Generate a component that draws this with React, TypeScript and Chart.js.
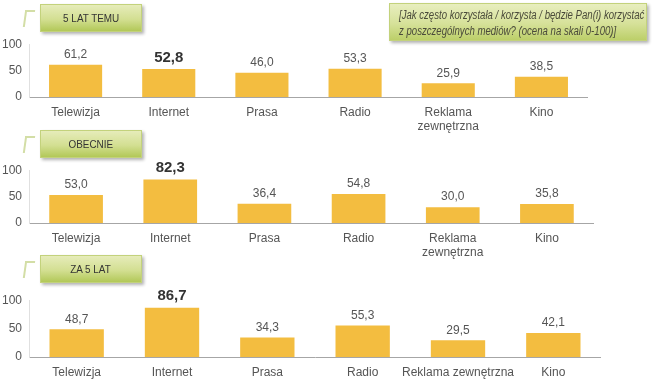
import React, { useEffect, useRef } from "react";
import { Chart, registerables } from "chart.js";

Chart.register(...registerables);

const FONT = "'Liberation Sans Narrow', 'Arial Narrow', 'Liberation Sans', Arial, sans-serif";

const categoriesWrapped: (string | string[])[] = ["Telewizja", "Internet", "Prasa", "Radio", ["Reklama", "zewnętrzna"], "Kino"];
const categoriesFlat: string[] = ["Telewizja", "Internet", "Prasa", "Radio", "Reklama zewnętrzna", "Kino"];

const values5LatTemu = [61.2, 52.8, 46.0, 53.3, 25.9, 38.5];
const valuesObecnie = [53.0, 82.3, 36.4, 54.8, 30.0, 35.8];
const valuesZa5Lat = [48.7, 86.7, 34.3, 55.3, 29.5, 42.1];

const yTicks = [0, 50, 100];
const panelTitles = ["5 LAT TEMU", "OBECNIE", "ZA 5 LAT"];
const questionText = ["[Jak często korzystała / korzysta / będzie Pan(i) korzystać", "z poszczególnych mediów? (ocena na skali 0-100)]"];
const highlightIndex = 1;

const BAR_COLOR = "#F3BD40";

const valueLabelPlugin = {
  id: "valueLabels",
  afterDatasetsDraw(chart: any) {
    const ctx = chart.ctx;
    const meta = chart.getDatasetMeta(0);
    const data = chart.data.datasets[0].data as number[];
    meta.data.forEach((bar: any, i: number) => {
      const bold = i === highlightIndex;
      ctx.save();
      ctx.font = bold ? `bold 15px ${FONT}` : `12px ${FONT}`;
      ctx.fillStyle = bold ? "#333333" : "#555555";
      ctx.textAlign = "center";
      ctx.textBaseline = "bottom";
      ctx.fillText(data[i].toFixed(1).replace(".", ","), bar.x, bar.y - 4);
      ctx.restore();
    });
  },
};

type PanelProps = {
  labels: (string | string[])[];
  values: number[];
  top: number;
  width: number;
  height: number;
  xAxisHeight: number;
};

function BarPanel({ labels, values, top, width, height, xAxisHeight }: PanelProps) {
  const ref = useRef<HTMLCanvasElement | null>(null);
  useEffect(() => {
    if (!ref.current) return;
    const chart = new Chart(ref.current, {
      type: "bar",
      data: {
        labels: labels as any,
        datasets: [
          {
            data: values,
            backgroundColor: BAR_COLOR,
            borderWidth: 0,
            barPercentage: 0.57,
            categoryPercentage: 1,
          },
        ],
      },
      options: {
        animation: false,
        responsive: false,
        maintainAspectRatio: false,
        layout: { padding: { top: 2, right: 0, left: 0, bottom: 0 } },
        plugins: { legend: { display: false }, tooltip: { enabled: false } },
        scales: {
          x: {
            grid: { display: false, drawTicks: false },
            border: { display: true, color: "#a6a6a6", width: 1 },
            ticks: { color: "#555555", font: { family: FONT, size: 12 }, padding: 8, maxRotation: 0, autoSkip: false },
            afterFit: (s: any) => {
              s.height = xAxisHeight;
            },
          },
          y: {
            min: 0,
            max: 100,
            grid: { display: false, drawTicks: false },
            border: { display: true, color: "#e0e0e0", width: 1 },
            afterBuildTicks: (s: any) => {
              s.ticks = yTicks.map((v) => ({ value: v }));
            },
            ticks: { color: "#555555", font: { family: FONT, size: 12 }, padding: 7 },
            afterFit: (s: any) => {
              s.width = 29;
            },
          },
        },
      },
      plugins: [valueLabelPlugin],
    });
    return () => chart.destroy();
  }, []);
  return (
    <canvas
      ref={ref}
      width={width}
      height={height}
      style={{ position: "absolute", left: 0, top, width, height }}
    />
  );
}

function TitleBox({ text, top }: { text: string; top: number }) {
  return (
    <>
      <div
        style={{
          position: "absolute",
          left: 24,
          top: top + 6,
          width: 8,
          height: 15,
          borderLeft: "2px solid #d3dea6",
          borderTop: "2px solid #d3dea6",
          transform: "skewX(-8deg)",
        }}
      />
      <div
        style={{
          position: "absolute",
          left: 40,
          top,
          width: 102,
          height: 28,
          boxSizing: "border-box",
          border: "1px solid #c3d27c",
          background: "linear-gradient(to bottom, #e6ecba 0%, #d3df92 55%, #b2c858 100%)",
          boxShadow: "2px 2px 3px rgba(0,0,0,0.3)",
          display: "flex",
          alignItems: "center",
          justifyContent: "center",
          fontFamily: FONT,
          fontSize: 11,
          color: "#333",
        }}
      >
        <span style={{ display: "inline-block", transform: "scaleX(0.9)" }}>{text}</span>
      </div>
    </>
  );
}

export default function App() {
  return (
    <div
      style={{
        position: "absolute",
        left: 0,
        top: 0,
        width: 655,
        height: 384,
        background: "#ffffff",
        overflow: "hidden",
        fontFamily: FONT,
      }}
    >
      <BarPanel labels={categoriesWrapped} values={values5LatTemu} top={30} width={588} height={110} xAxisHeight={43} />
      <BarPanel labels={categoriesWrapped} values={valuesObecnie} top={156} width={594} height={110} xAxisHeight={43} />
      <BarPanel labels={categoriesFlat} values={valuesZa5Lat} top={286} width={601} height={98} xAxisHeight={27} />
      <TitleBox text={panelTitles[0]} top={4} />
      <TitleBox text={panelTitles[1]} top={130} />
      <TitleBox text={panelTitles[2]} top={255} />
      <div
        style={{
          position: "absolute",
          left: 389,
          top: 3,
          width: 258,
          height: 38,
          boxSizing: "border-box",
          border: "1px solid #c3d27c",
          background: "linear-gradient(to bottom, #e8eebf 0%, #d6e199 55%, #bccf69 100%)",
          boxShadow: "2px 2px 3px rgba(0,0,0,0.3)",
          padding: "3px 0 0 9px",
          fontFamily: FONT,
          fontStyle: "italic",
          fontSize: 12,
          lineHeight: "16px",
          color: "#4a4a3a",
          whiteSpace: "nowrap",
        }}
      >
        <div style={{ transform: "scaleX(0.8)", transformOrigin: "left center" }}>{questionText[0]}</div>
        <div style={{ transform: "scaleX(0.8)", transformOrigin: "left center" }}>{questionText[1]}</div>
      </div>
    </div>
  );
}
